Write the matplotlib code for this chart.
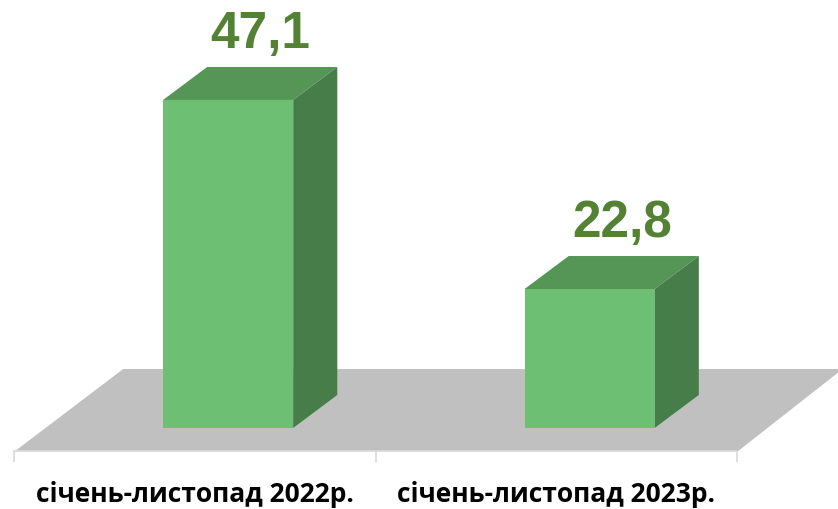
import numpy as np
import matplotlib
matplotlib.use("Agg")
import matplotlib.pyplot as plt
from matplotlib.patches import Polygon

# data
categories = ["січень-листопад 2022р.", "січень-листопад 2023р."]
values = [47.1, 22.8]

# colours
front_col = "#6dc073"
top_col = "#559656"
side_col = "#477d49"
label_col = "#548235"
floor_col = "#c0c0c0"
line_col = "#d9d9d9"

# fake 3d geometry (data units)
base = 4.94          # floor level under the bars
w = 0.36             # bar width
ddx, ddy = 0.122, 4.24   # bar depth offset
floor_front, floor_back = 1.98, 12.52

fig = plt.figure(figsize=(8.38, 5.09), dpi=100)
ax = fig.add_axes([0, 0, 1, 1])
ax.set_xlim(-0.631, 1.687)
ax.set_ylim(-5.48, 59.95)
ax.axis("off")

x = np.arange(len(values))

# floor
floor = Polygon([(-0.589, floor_front), (1.411, floor_front),
                 (1.70, floor_back), (-0.290, floor_back)],
                closed=True, facecolor=floor_col, edgecolor="none", zorder=1)
ax.add_patch(floor)

# axis line + ticks
ax.plot([-0.592, 1.406], [floor_front, floor_front], color=line_col, lw=1.2, zorder=1.5)
bounds = np.arange(len(values) + 1) - 0.592
ax.vlines(bounds, floor_front - 1.45, floor_front, color=line_col, lw=1.2, zorder=1.5)

# bars
vals = np.array(values)
ax.bar(x, vals - base, bottom=base, width=w, color=front_col, zorder=3)
for xi, v in zip(x, vals):
    l, r = xi - w / 2, xi + w / 2
    ax.add_patch(Polygon([(l, v), (r, v), (r + ddx, v + ddy), (l + ddx, v + ddy)],
                         closed=True, facecolor=top_col, edgecolor="none", zorder=2))
    ax.add_patch(Polygon([(r, base), (r, v), (r + ddx, v + ddy), (r + ddx, base + ddy)],
                         closed=True, facecolor=side_col, edgecolor="none", zorder=2))
    ax.text(xi + 0.09, v + ddy + 4.2, f"{v:.1f}".replace(".", ","),
            ha="center", va="center", fontsize=37, fontweight="bold",
            family="Liberation Sans", color=label_col, zorder=4)

# category labels
for i, c in enumerate(categories):
    ax.text((bounds[i] + bounds[i + 1]) / 2, -3.65, c, ha="center", va="center",
            fontsize=19, fontweight="bold", family="Open Sans", color="black")

fig.savefig("out.png", dpi=100)
